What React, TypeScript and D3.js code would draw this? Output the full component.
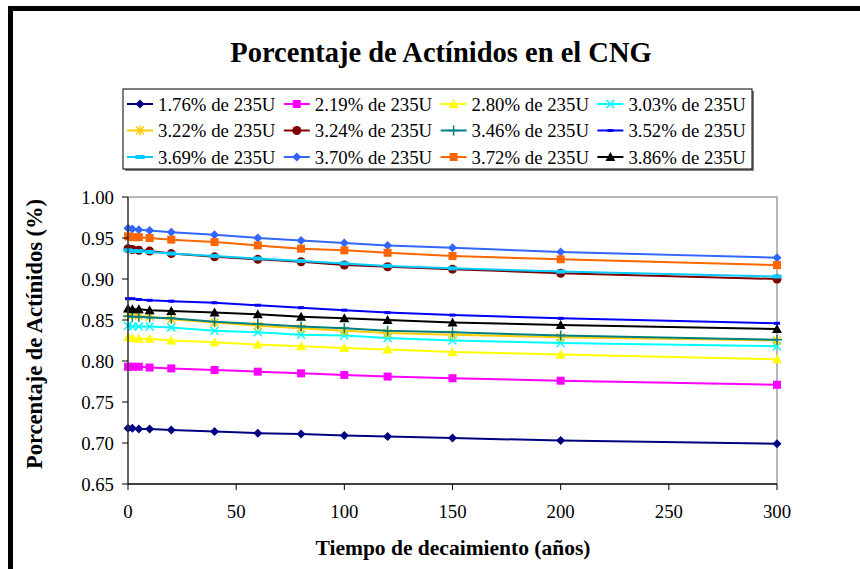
import React from 'react';
import * as d3 from 'd3';

const years = [0, 2, 5, 10, 20, 40, 60, 80, 100, 120, 150, 200, 300];

const seriesNames = [
  '1.76% de 235U', '2.19% de 235U', '2.80% de 235U', '3.03% de 235U',
  '3.22% de 235U', '3.24% de 235U', '3.46% de 235U', '3.52% de 235U',
  '3.69% de 235U', '3.70% de 235U', '3.72% de 235U', '3.86% de 235U',
];

const s176 = [0.718, 0.718, 0.717, 0.717, 0.716, 0.714, 0.712, 0.711, 0.709, 0.708, 0.706, 0.703, 0.699];
const s219 = [0.793, 0.793, 0.793, 0.792, 0.791, 0.789, 0.787, 0.785, 0.783, 0.781, 0.779, 0.776, 0.771];
const s280 = [0.829, 0.828, 0.827, 0.827, 0.825, 0.823, 0.820, 0.818, 0.816, 0.814, 0.811, 0.808, 0.802];
const s303 = [0.843, 0.842, 0.842, 0.842, 0.841, 0.837, 0.835, 0.832, 0.831, 0.828, 0.825, 0.822, 0.818];
const s322 = [0.857, 0.856, 0.855, 0.854, 0.851, 0.847, 0.843, 0.840, 0.837, 0.834, 0.832, 0.829, 0.825];
const s324 = [0.937, 0.936, 0.935, 0.934, 0.931, 0.927, 0.924, 0.921, 0.917, 0.915, 0.912, 0.907, 0.900];
const s346 = [0.855, 0.854, 0.854, 0.853, 0.852, 0.848, 0.845, 0.842, 0.840, 0.837, 0.835, 0.831, 0.826];
const s352 = [0.876, 0.876, 0.875, 0.874, 0.873, 0.871, 0.868, 0.865, 0.862, 0.859, 0.856, 0.852, 0.846];
const s369 = [0.935, 0.934, 0.934, 0.933, 0.931, 0.928, 0.925, 0.922, 0.919, 0.916, 0.913, 0.909, 0.903];
const s370 = [0.962, 0.961, 0.960, 0.959, 0.957, 0.954, 0.950, 0.947, 0.944, 0.941, 0.938, 0.933, 0.926];
const s372 = [0.952, 0.951, 0.951, 0.950, 0.948, 0.945, 0.941, 0.937, 0.935, 0.932, 0.928, 0.924, 0.917];
const s386 = [0.864, 0.863, 0.863, 0.862, 0.861, 0.859, 0.857, 0.854, 0.852, 0.850, 0.847, 0.844, 0.839];

const seriesValues = [s176, s219, s280, s303, s322, s324, s346, s352, s369, s370, s372, s386];
const colors = ['#000080', '#FF00FF', '#FFFF00', '#00FFFF', '#FFCC00', '#800000', '#008080', '#0000FF', '#00CCFF', '#3366FF', '#FF6600', '#000000'];
const markers = ['diamond', 'square', 'triangle', 'x', 'star', 'circle', 'plus', 'dashS', 'dashL', 'diamond', 'square', 'triangle'];

const yTicks = [0.65, 0.7, 0.75, 0.8, 0.85, 0.9, 0.95, 1.0];
const xTicks = [0, 50, 100, 150, 200, 250, 300];

const title = 'Porcentaje de Actínidos en el CNG';
const xTitle = 'Tiempo de decaimiento (años)';
const yTitle = 'Porcentaje de Actínidos (%)';

const FONT = '"Liberation Serif", "Times New Roman", serif';

function Marker({ kind, cx, cy, color }: { kind: string; cx: number; cy: number; color: string }) {
  switch (kind) {
    case 'diamond': {
      const r = 4.5;
      return <path d={`M${cx},${cy - r}L${cx + r},${cy}L${cx},${cy + r}L${cx - r},${cy}Z`} fill={color} />;
    }
    case 'square':
      return <rect x={cx - 4} y={cy - 4} width={8} height={8} fill={color} />;
    case 'triangle': {
      const r = 5;
      return <path d={`M${cx},${cy - r}L${cx + r},${cy + r * 0.8}L${cx - r},${cy + r * 0.8}Z`} fill={color} />;
    }
    case 'circle':
      return <circle cx={cx} cy={cy} r={4.5} fill={color} />;
    case 'x': {
      const r = 4;
      return <path d={`M${cx - r},${cy - r}L${cx + r},${cy + r}M${cx - r},${cy + r}L${cx + r},${cy - r}`} stroke={color} strokeWidth={1.5} fill="none" />;
    }
    case 'star': {
      const r = 4;
      return <path d={`M${cx - r},${cy - r}L${cx + r},${cy + r}M${cx - r},${cy + r}L${cx + r},${cy - r}M${cx},${cy - r - 1}L${cx},${cy + r + 1}`} stroke={color} strokeWidth={1.5} fill="none" />;
    }
    case 'plus': {
      const r = 5;
      return <path d={`M${cx - r},${cy}L${cx + r},${cy}M${cx},${cy - r}L${cx},${cy + r}`} stroke={color} strokeWidth={1.5} fill="none" />;
    }
    case 'dashS':
      return <rect x={cx - 3} y={cy - 1.5} width={6} height={3} fill={color} />;
    case 'dashL':
      return <rect x={cx - 4.5} y={cy - 2} width={9} height={4} fill={color} />;
    default:
      return null;
  }
}

export default function App() {
  const W = 860, H = 569;
  const left = 128, right = 777, top = 197, bottom = 484;
  const x = d3.scaleLinear().domain([0, 300]).range([left, right]);
  const y = d3.scaleLinear().domain([0.65, 1.0]).range([bottom, top]);
  const line = d3.line<number>().x((_, i) => x(years[i])).y((v) => y(v));

  const legX0 = 123, legY0 = 89, legW = 629, legH = 80;
  const colW = 156.8;
  const rowY = [104, 130.5, 157];

  return (
    <svg width={W} height={H} style={{ position: 'absolute', left: 0, top: 0, background: '#fff' }}>
      <rect x={0} y={0} width={W} height={H} fill="#fff" />
      <rect x={10.5} y={8.5} width={1000} height={1000} fill="none" stroke="#000" strokeWidth={5} />
      <text x={441} y={62} textAnchor="middle" fontFamily={FONT} fontWeight="bold" fontSize={28.5}>{title}</text>

      {/* legend */}
      <rect x={legX0 + 2} y={legY0 + 2} width={legW} height={legH} fill="#808080" />
      <rect x={legX0} y={legY0} width={legW} height={legH} fill="#fff" stroke="#000" strokeWidth={1} />
      {seriesNames.map((name, i) => {
        const col = i % 4, row = Math.floor(i / 4);
        const lx = legX0 + 4 + col * colW;
        const ly = rowY[row];
        return (
          <g key={name}>
            <line x1={lx} x2={lx + 26} y1={ly} y2={ly} stroke={colors[i]} strokeWidth={2} />
            <Marker kind={markers[i]} cx={lx + 13} cy={ly} color={colors[i]} />
            <text x={lx + 31} y={ly + 6.5} fontFamily={FONT} fontSize={18.8}>{name}</text>
          </g>
        );
      })}

      {/* plot border */}
      <path d={`M${left},${top}H${right}V${bottom}`} fill="none" stroke="#a0a0a0" strokeWidth={1.5} />

      {/* series */}
      {seriesValues.map((vals, i) => (
        <g key={i}>
          <path d={line(vals) || ''} fill="none" stroke={colors[i]} strokeWidth={2} />
          {vals.map((v, j) => (
            <Marker key={j} kind={markers[i]} cx={x(years[j])} cy={y(v)} color={colors[i]} />
          ))}
        </g>
      ))}

      {/* axes */}
      <line x1={left} x2={left} y1={top} y2={bottom} stroke="#333" strokeWidth={1.5} />
      <line x1={left} x2={right} y1={bottom} y2={bottom} stroke="#000" strokeWidth={1.5} />
      {yTicks.map((t) => (
        <g key={t}>
          <line x1={left - 6} x2={left} y1={y(t)} y2={y(t)} stroke="#000" strokeWidth={1} />
          <text x={114} y={y(t) + 6.5} textAnchor="end" fontFamily={FONT} fontSize={18.8}>{t.toFixed(2)}</text>
        </g>
      ))}
      {xTicks.map((t) => (
        <g key={t}>
          <line x1={x(t)} x2={x(t)} y1={bottom} y2={bottom + 6} stroke="#000" strokeWidth={1} />
          <text x={x(t)} y={518} textAnchor="middle" fontFamily={FONT} fontSize={18.8}>{t}</text>
        </g>
      ))}
      <text x={453} y={555} textAnchor="middle" fontFamily={FONT} fontWeight="bold" fontSize={21.5}>{xTitle}</text>
      <text transform={`translate(42,334) rotate(-90)`} textAnchor="middle" fontFamily={FONT} fontWeight="bold" fontSize={22.5}>{yTitle}</text>
    </svg>
  );
}
